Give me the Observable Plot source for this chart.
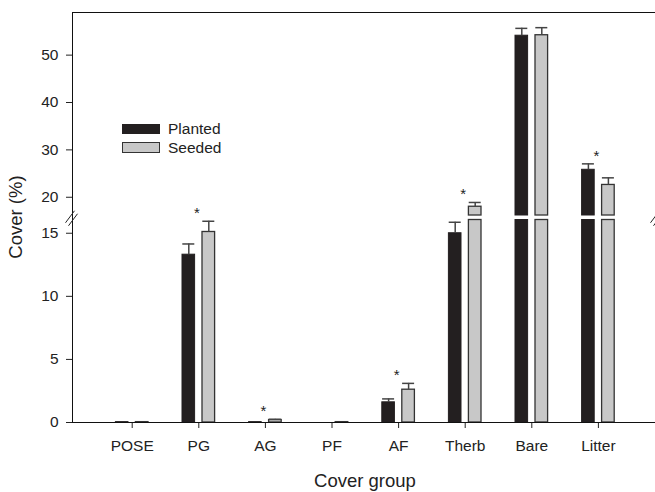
<!DOCTYPE html>
<html>
<head>
<meta charset="utf-8">
<script src="https://cdn.jsdelivr.net/npm/d3@7"></script>
<script src="https://cdn.jsdelivr.net/npm/@observablehq/plot@0.6"></script>
<style>
  body { margin: 0; background: #fff; }
  #wrap { position: relative; width: 655px; height: 492px; overflow: hidden;
          font-family: "Liberation Sans", Arial, sans-serif; color: #222; }
  #chart { position: absolute; left: 0; top: 0; }
  .ylab { position: absolute; left: 16px; top: 217px; transform: translate(-50%, -50%) rotate(-90deg);
          font-size: 18.5px; white-space: nowrap; }
  .xlab { position: absolute; left: 365px; top: 481px; transform: translate(-50%, -50%);
          font-size: 18.5px; white-space: nowrap; }
  .lg-box { position: absolute; left: 122px; width: 38px; box-sizing: border-box; }
  .lg-txt { position: absolute; left: 168px; font-size: 15.5px; transform: translateY(-50%); white-space: nowrap; }
</style>
</head>
<body>
<div id="wrap">
  <div id="chart"></div>
  <div class="ylab">Cover (%)</div>
  <div class="xlab">Cover group</div>
  <div class="lg-box" style="top:123.5px;height:10.5px;background:#231f20;"></div>
  <div class="lg-txt" style="top:128.7px;">Planted</div>
  <div class="lg-box" style="top:142px;height:11px;background:#c8c8c8;border:1.2px solid #333;"></div>
  <div class="lg-txt" style="top:147.5px;">Seeded</div>
</div>
<script>
const categories = ["POSE", "PG", "AG", "PF", "AF", "Therb", "Bare", "Litter"];
const groups = ["Planted", "Seeded"];
const plantedMean = [0.03, 13.3, 0.03, 0, 1.6, 15.0, 54.1, 25.8];
const plantedSE   = [0, 0.85, 0, 0, 0.27, 0.87, 1.55, 1.25];
const seededMean  = [0.03, 15.1, 0.2, 0.03, 2.6, 18.0, 54.2, 22.6];
const seededSE    = [0, 0.85, 0.05, 0, 0.5, 0.9, 1.6, 1.5];
const significant = [false, true, true, false, true, true, false, true];
const yTicks = [0, 5, 10, 15, 20, 30, 40, 50];
const breakLow = 16.05, breakHigh = 16.15, yMax = 59;

const rows = [];
categories.forEach((cat, i) => {
  rows.push({cat, group: "Planted", mean: plantedMean[i], se: plantedSE[i]});
  rows.push({cat, group: "Seeded", mean: seededMean[i], se: seededSE[i]});
});
rows.forEach(d => { d.low = Math.min(d.mean, breakLow); d.high = d.mean > breakHigh ? d.mean : null; });
const stars = categories.map((cat, i) => ({cat, sig: significant[i],
  top: Math.max(plantedMean[i] + plantedSE[i], seededMean[i] + seededSE[i])})).filter(d => d.sig);

const style = {
  Planted: {fill: "#231f20", stroke: "#231f20", strokeWidth: 1, dx: -10},
  Seeded:  {fill: "#c8c8c8", stroke: "#333333", strokeWidth: 1.3, dx: 10}
};
const barInset = 27, capInset = 27.3;

const marks = [];
for (const g of groups) {
  const s = style[g];
  const data = rows.filter(d => d.group === g);
  marks.push(Plot.barY(data, {x: "cat", y1: 0, y2: "low", fill: s.fill, stroke: s.stroke,
    strokeWidth: s.strokeWidth, dx: s.dx, insetLeft: barInset, insetRight: barInset}));
  marks.push(Plot.barY(data.filter(d => d.high != null), {x: "cat", y1: breakHigh, y2: "high",
    fill: s.fill, stroke: s.stroke, strokeWidth: s.strokeWidth, dx: s.dx, insetLeft: barInset, insetRight: barInset}));
  const eb = data.filter(d => d.se > 0);
  marks.push(Plot.ruleX(eb, {x: "cat", y1: "mean", y2: d => d.mean + d.se, dx: s.dx, stroke: "#444", strokeWidth: 1.5}));
  marks.push(Plot.tickY(eb, {x: "cat", y: d => d.mean + d.se, dx: s.dx, insetLeft: capInset, insetRight: capInset,
    stroke: "#444", strokeWidth: 1.5}));
}
marks.push(Plot.text(stars, {x: "cat", y: "top", text: () => "*", dy: -8, dx: -2, fontSize: 15, fill: "#222"}));
marks.push(Plot.frame({stroke: "#111", strokeWidth: 1}));

const plot = Plot.plot({
  width: 655, height: 492,
  marginLeft: 72, marginRight: -2, marginTop: 12, marginBottom: 70,
  style: {fontFamily: "Liberation Sans, Arial, sans-serif", fontSize: "15.5px", color: "#222", background: "#fff"},
  x: {type: "band", domain: categories, range: [98.4, 631.2], padding: 0, round: false,
      tickSize: 6, tickPadding: 11, label: null},
  y: {type: "linear", domain: [0, breakLow, breakHigh, yMax], range: [422, 219.5, 215, 12],
      ticks: yTicks, tickSize: 6, tickPadding: 8, label: null},
  marks
});
document.getElementById("chart").appendChild(plot);

// axis-break marks, placed with the plot's own y scale
const svg = d3.select(plot.tagName.toLowerCase() === "svg" ? plot : plot.querySelector("svg"));
const ys = plot.scale("y");
const yb = (ys.apply(breakLow) + ys.apply(breakHigh)) / 2;
for (const xb of [72, 657]) {
  for (const off of [-1.5, 1.5]) {
    svg.append("line")
      .attr("x1", xb - 5 + off).attr("y1", yb + 7 + off)
      .attr("x2", xb + 4 + off).attr("y2", yb - 5 + off)
      .attr("stroke", "#222").attr("stroke-width", 1);
  }
}
</script>
</body>
</html>
